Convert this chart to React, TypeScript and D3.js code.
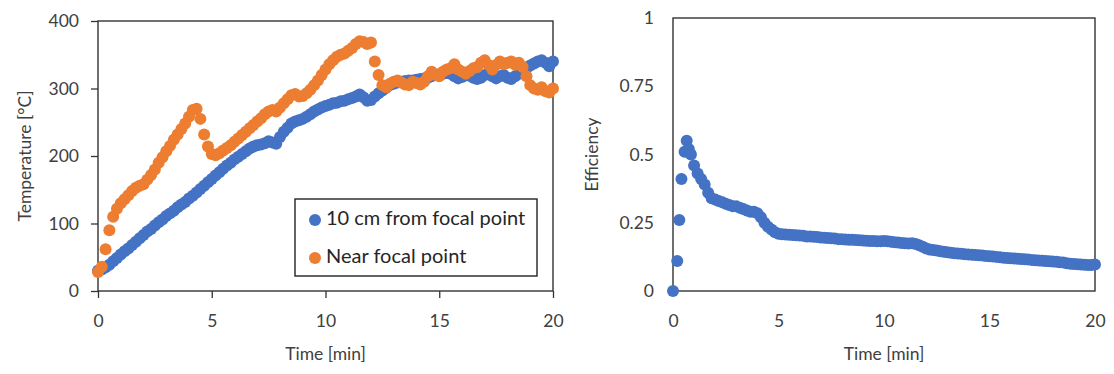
// App.tsx
import React, { useEffect, useRef } from "react";
import * as d3 from "d3";

// time in minutes, one reading every 10 s
const time = d3.range(121).map((i) => i / 6);

// temperature 10 cm from focal point [°C]
const temp10cm = [
  30, 32, 35, 39, 44, 49, 54, 59, 63, 68, 73, 78, 83, 88, 92, 97, 102, 106, 111, 115,
  119, 124, 128, 132, 137, 141, 146, 151, 156, 161, 166, 171, 176, 181, 186, 190, 195, 199, 203, 207,
  211, 214, 216, 217, 219, 222, 220, 218, 228, 236, 242, 248, 251, 253, 255, 258, 262, 266, 269, 272,
  274, 276, 278, 279, 281, 282, 284, 286, 288, 291, 287, 282, 283, 288, 293, 297, 301, 305, 307, 309,
  310, 311, 312, 312, 313, 314, 315, 316, 318, 320, 321, 322, 323, 322, 318, 315, 317, 320, 319, 316,
  314, 316, 320, 322, 318, 315, 318, 320, 316, 314, 318, 322, 326, 330, 334, 337, 340, 342, 338, 333,
  340,
];

// temperature near focal point [°C]
const tempNear = [
  28, 36, 62, 90, 110, 122, 130, 136, 142, 148, 153, 156, 158, 165, 172, 180, 190, 198, 207, 215,
  224, 232, 240, 248, 258, 268, 270, 255, 232, 214, 203, 201, 204, 208, 212, 216, 221, 226, 231, 236,
  241, 246, 251, 256, 262, 266, 268, 266, 272, 278, 284, 290, 292, 288, 289, 293, 298, 305, 312, 320,
  328, 336, 342, 347, 350, 352, 356, 360, 366, 370, 369, 366, 368, 340, 320, 305, 302, 307, 310, 312,
  309, 306, 305, 310, 308, 306, 310, 318, 325, 320, 318, 325, 328, 330, 336, 328, 325, 322, 326, 330,
  332, 338, 342, 335, 328, 335, 340, 336, 338, 340, 335, 338, 332, 318, 305, 300, 298, 302, 296, 294,
  300,
];

// efficiency: first readings come closer together
const effTime = [0, 0.2, 0.3, 0.4, 0.55, 0.65, 0.75, 0.85].concat(d3.range(6, 121).map((i) => i / 6));
const efficiency = [
  0, 0.11, 0.26, 0.41, 0.51, 0.55, 0.52, 0.5,
  0.46, 0.43, 0.41, 0.39, 0.36, 0.34, 0.335, 0.33, 0.325, 0.32, 0.315, 0.31, 0.31, 0.305,
  0.3, 0.295, 0.29, 0.29, 0.285, 0.27, 0.25, 0.235, 0.225, 0.215, 0.21, 0.208, 0.207, 0.206,
  0.205, 0.204, 0.203, 0.202, 0.2, 0.2, 0.199, 0.198, 0.196, 0.195, 0.194, 0.193, 0.192, 0.19,
  0.19, 0.189, 0.188, 0.188, 0.187, 0.186, 0.185, 0.184, 0.183, 0.183, 0.182, 0.182, 0.183, 0.182,
  0.18, 0.179, 0.178, 0.176, 0.175, 0.174, 0.175, 0.172, 0.168, 0.162, 0.156, 0.152, 0.15, 0.148,
  0.146, 0.144, 0.142, 0.14, 0.138, 0.137, 0.136, 0.135, 0.134, 0.133, 0.132, 0.131, 0.13, 0.128,
  0.127, 0.126, 0.125, 0.124, 0.122, 0.121, 0.12, 0.119, 0.118, 0.117, 0.116, 0.115, 0.114, 0.113,
  0.112, 0.111, 0.11, 0.109, 0.108, 0.107, 0.105, 0.104, 0.102, 0.1, 0.099, 0.098, 0.097, 0.096,
  0.095, 0.095, 0.097,
];

const timeTicks = [0, 5, 10, 15, 20];
const tempTicks = [0, 100, 200, 300, 400];
const effTicks = [0, 0.25, 0.5, 0.75, 1];
const legendLabels = ["10 cm from focal point", "Near focal point"];

const BLUE = "#4472C4";
const ORANGE = "#ED7D31";
const FONT = "Lato, 'Open Sans', sans-serif";
const R = 6; // marker radius

const App = () => {
  const ref = useRef(null);

  useEffect(() => {
    d3.select(ref.current).selectAll("*").remove();

    const svg = d3.select(ref.current)
      .append("svg")
      .attr("width", 1114)
      .attr("height", 374)
      .style("display", "block")
      .style("background", "#fff")
      .style("font-family", FONT);

    // draws one framed panel, returns the plot group
    const panel = (left, right, top, bottom, x, y, yTicks, yFmt, yTitle, titleX, outerTicks) => {
      const g = svg.append("g");

      const yAxis = d3.axisLeft(y).tickValues(yTicks).tickFormat(yFmt)
        .tickSize(outerTicks ? 7 : 0).tickPadding(outerTicks ? 12 : 19);
      g.append("g").attr("transform", `translate(${left},0)`).call(yAxis);

      const xAxis = d3.axisBottom(x).tickValues(timeTicks).tickFormat((d) => d)
        .tickSize(outerTicks ? 7 : 0).tickPadding(outerTicks ? 17 : 24);
      g.append("g").attr("transform", `translate(0,${bottom})`).call(xAxis);

      g.selectAll(".domain").remove();
      g.selectAll(".tick line").attr("stroke", "#333").attr("stroke-width", 1.3);
      g.selectAll(".tick text").attr("fill", "#404040").style("font-size", "17.5px").style("font-family", FONT);

      g.append("rect")
        .attr("x", left).attr("y", top)
        .attr("width", right - left).attr("height", bottom - top)
        .attr("fill", "none").attr("stroke", "#333").attr("stroke-width", 1.4);

      g.append("text")
        .attr("transform", `translate(${titleX},${(top + bottom) / 2}) rotate(-90)`)
        .attr("text-anchor", "middle").attr("dominant-baseline", "middle")
        .attr("fill", "#404040").style("font-size", "17.5px")
        .text(yTitle);

      g.append("text")
        .attr("x", (left + right) / 2).attr("y", 356)
        .attr("text-anchor", "middle").attr("dominant-baseline", "middle")
        .attr("fill", "#404040").style("font-size", "17.5px")
        .text("Time [min]");

      return g;
    };

    // left: temperature
    const xL = d3.scaleLinear().domain([0, 20]).range([98, 553]);
    const yL = d3.scaleLinear().domain([0, 400]).range([291, 21]);
    const gL = panel(98, 553, 21, 291, xL, yL, tempTicks, (d) => d, "Temperature [°C]", 27, true);

    const series = [
      { values: temp10cm, color: BLUE },
      { values: tempNear, color: ORANGE },
    ];
    series.forEach((s) => {
      gL.append("g").selectAll("circle")
        .data(s.values)
        .enter()
        .append("circle")
        .attr("cx", (d, i) => xL(time[i]))
        .attr("cy", (d) => yL(d))
        .attr("r", R)
        .attr("fill", s.color);
    });

    // legend
    const lg = gL.append("g");
    lg.append("rect")
      .attr("x", 295).attr("y", 199).attr("width", 242).attr("height", 77)
      .attr("fill", "#fff").attr("stroke", "#222").attr("stroke-width", 1.4);
    legendLabels.forEach((label, i) => {
      const cy = 220 + i * 38;
      lg.append("circle").attr("cx", 315).attr("cy", cy).attr("r", R).attr("fill", series[i].color);
      lg.append("text")
        .attr("x", 326).attr("y", cy)
        .attr("dominant-baseline", "middle")
        .attr("fill", "#262626").style("font-size", "20px")
        .text(label);
    });

    // right: efficiency
    const xR = d3.scaleLinear().domain([0, 20]).range([673, 1095]);
    const yR = d3.scaleLinear().domain([0, 1]).range([291, 18]);
    const gR = panel(673, 1095, 18, 291, xR, yR, effTicks, (d) => d, "Efficiency", 594, false);

    gR.append("g").selectAll("circle")
      .data(efficiency)
      .enter()
      .append("circle")
      .attr("cx", (d, i) => xR(effTime[i]))
      .attr("cy", (d) => yR(d))
      .attr("r", R)
      .attr("fill", BLUE);
  }, []);

  return <div ref={ref} style={{ position: "absolute", left: 0, top: 0 }}></div>;
};

export default App;
